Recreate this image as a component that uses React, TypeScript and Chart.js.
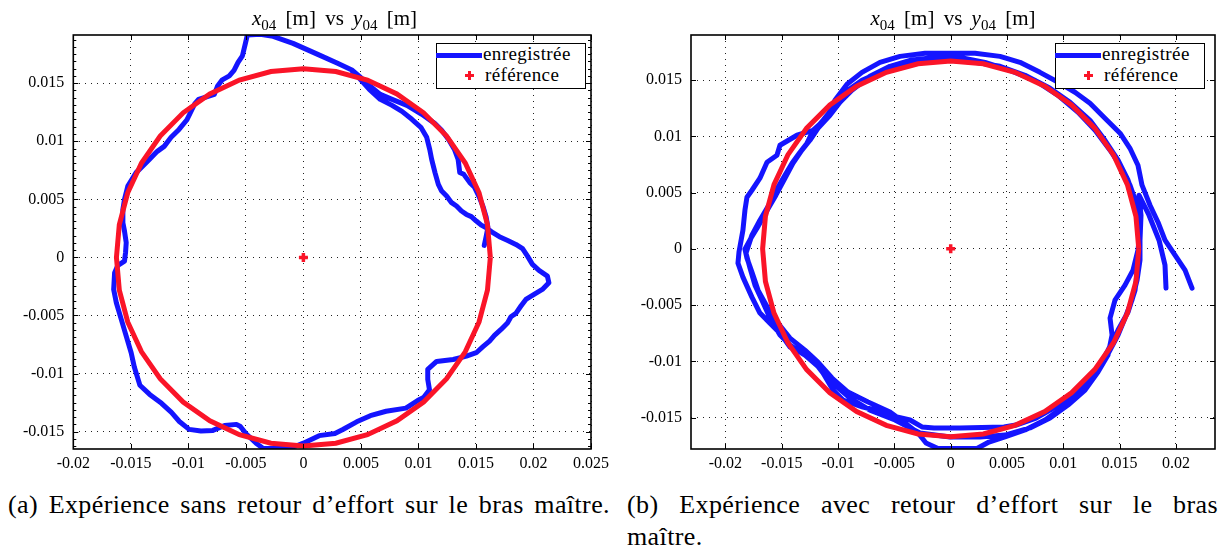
import React, { useEffect, useRef } from "react";
import { Chart, registerables } from "chart.js";
Chart.register(...registerables);

// ---------------- data (metres) ----------------
// (a) sans retour d'effort : trajectoire enregistrée
const recordedAX = [
  0.01572, 0.01589, 0.01604, 0.01589, 0.01561, 0.01526, 0.01488, 0.01445, 0.01394, 0.01359,
  0.01345, 0.01313, 0.01262, 0.01202, 0.01141, 0.01029, 0.009, 0.00771, 0.00668, 0.00573,
  0.00487, 0.00426, 0.00297, 0.00125, -0.0009, -0.00263, -0.00375, -0.00487, -0.00504, -0.0053,
  -0.00568, -0.00603, -0.00644, -0.00705, -0.00747, -0.00774, -0.00842, -0.00911, -0.00945, -0.00979,
  -0.01014, -0.01081, -0.0115, -0.0121, -0.0127, -0.01339, -0.01454, -0.01526, -0.01555, -0.01569,
  -0.01569, -0.01555, -0.0154, -0.01546, -0.01555, -0.01612, -0.01641, -0.01649, -0.01626, -0.01583,
  -0.0154, -0.01497, -0.01469, -0.01421, -0.01336, -0.01233, -0.01147, -0.01078, -0.00993, -0.00891,
  -0.00787, -0.00685, -0.00582, -0.00548, -0.00496, -0.00411, -0.00349, -0.00134, -0.00069, 0.0,
  0.00137, 0.00274, 0.00343, 0.00463, 0.00582, 0.00719, 0.00891, 0.00993, 0.01045, 0.01096,
  0.01081, 0.01081, 0.01158, 0.01302, 0.01417, 0.01503, 0.01561, 0.01618, 0.01661, 0.01718,
  0.01776, 0.01804, 0.01847, 0.01891, 0.01934, 0.02005, 0.02077, 0.02134, 0.02121, 0.02048,
  0.01991, 0.01948, 0.01905, 0.01847, 0.01776, 0.01704, 0.01647, 0.01589, 0.01546, 0.01503,
  0.0146, 0.01417, 0.01374, 0.01331, 0.01288, 0.01245, 0.01202, 0.01173, 0.01144, 0.01115,
  0.01098, 0.01072, 0.01021, 0.00943, 0.00857, 0.00771, 0.00668, 0.00573, 0.00487, 0.00426,
];
const recordedAY = [
  0.00103, 0.00181, 0.00258, 0.00345, 0.00439, 0.00525, 0.00603, 0.00646, 0.00715, 0.00732,
  0.00844, 0.0093, 0.01016, 0.01094, 0.01154, 0.01232, 0.01309, 0.01361, 0.01404, 0.01481,
  0.01559, 0.01611, 0.01671, 0.01748, 0.01843, 0.01903, 0.01921, 0.01916, 0.01843, 0.01736,
  0.0168, 0.01611, 0.01563, 0.01529, 0.01473, 0.01404, 0.01382, 0.01361, 0.01321, 0.01252,
  0.01183, 0.01102, 0.01034, 0.00956, 0.00913, 0.00844, 0.0073, 0.00614, 0.005, 0.00413,
  0.00299, 0.00227, 0.00127, 0.0004, -0.00032, -0.00069, -0.00132, -0.00276, -0.0039, -0.00534,
  -0.00678, -0.00821, -0.00947, -0.01101, -0.0118, -0.01257, -0.01335, -0.01413, -0.01481, -0.01495,
  -0.0149, -0.01447, -0.01438, -0.01456, -0.01521, -0.016, -0.01645, -0.01645, -0.01626, -0.016,
  -0.01535, -0.01516, -0.01482, -0.01416, -0.01363, -0.01325, -0.01298, -0.01233, -0.01206, -0.0114,
  -0.01051, -0.00965, -0.00896, -0.00879, -0.0085, -0.00821, -0.00769, -0.00721, -0.00672, -0.0062,
  -0.00562, -0.00511, -0.00482, -0.00419, -0.00362, -0.00319, -0.00276, -0.00218, -0.00161, -0.00112,
  -0.0006, 0.00011, 0.00075, 0.00112, 0.00146, 0.00178, 0.00213, 0.00256, 0.00278, 0.00313,
  0.00351, 0.0037, 0.00399, 0.00442, 0.00471, 0.00528, 0.00571, 0.00629, 0.0073, 0.00844,
  0.0093, 0.01034, 0.0112, 0.01189, 0.01257, 0.01309, 0.01361, 0.01447, 0.01542, 0.01602,
];
// (a) référence : cercle, un point tous les 10°
const referenceAX = [
  0.01625, 0.016, 0.01527, 0.01407, 0.01245, 0.01045, 0.00813, 0.00556, 0.00282, 0,
  -0.00282, -0.00556, -0.00813, -0.01045, -0.01245, -0.01407, -0.01527, -0.016, -0.01625,
  -0.016, -0.01527, -0.01407, -0.01245, -0.01045, -0.00813, -0.00556, -0.00282, 0,
  0.00282, 0.00556, 0.00813, 0.01045, 0.01245, 0.01407, 0.01527, 0.016, 0.01625,
];
const referenceAY = [
  0, 0.00282, 0.00556, 0.00813, 0.01045, 0.01245, 0.01407, 0.01527, 0.016, 0.01625,
  0.016, 0.01527, 0.01407, 0.01245, 0.01045, 0.00813, 0.00556, 0.00282, 0,
  -0.00282, -0.00556, -0.00813, -0.01045, -0.01245, -0.01407, -0.01527, -0.016, -0.01625,
  -0.016, -0.01527, -0.01407, -0.01245, -0.01045, -0.00813, -0.00556, -0.00282, 0,
];

// (b) avec retour d'effort : trois tours enregistrés
const lap1BX = [
  0.02143, 0.02081, 0.01992, 0.01903, 0.01841, 0.0177, 0.01699, 0.01663, 0.01592, 0.01504,
  0.0137, 0.01237, 0.01104, 0.00971, 0.00793, 0.00615, 0.00438, 0.00216, -0.00006, -0.00228,
  -0.0045, -0.00628, -0.00788, -0.00921, -0.01028, -0.01107, -0.01223, -0.01365, -0.01516, -0.01543,
  -0.01631, -0.01694, -0.01765, -0.01809, -0.01827, -0.01845, -0.0188, -0.01889, -0.01845, -0.01765,
  -0.01694, -0.01605, -0.01516, -0.01427, -0.01338, -0.01223, -0.01134, -0.01045, -0.00956, -0.00779,
  -0.00601, -0.00477, -0.00361, -0.00255, -0.00148, 0.00083, 0.00473, 0.0058, 0.00758, 0.00882,
  0.01015, 0.01148, 0.01255, 0.01344, 0.01415, 0.01486, 0.01548, 0.0161, 0.01655, 0.01681,
  0.01681,
];
const lap1BY = [
  -0.00349, -0.00189, -0.00056, 0.00077, 0.00237, 0.00388, 0.00566, 0.00743, 0.00894, 0.01028,
  0.01161, 0.01294, 0.01392, 0.01472, 0.01569, 0.01658, 0.01711, 0.01738, 0.01738, 0.01738,
  0.01711, 0.01658, 0.01569, 0.01463, 0.01321, 0.01161, 0.01054, 0.0101, 0.00921, 0.00832,
  0.0077, 0.00628, 0.00521, 0.00459, 0.00344, 0.00166, -0.00029, -0.00127, -0.00251, -0.00429,
  -0.00571, -0.0066, -0.00749, -0.00873, -0.00917, -0.00988, -0.01104, -0.01255, -0.01344, -0.01406,
  -0.0145, -0.01495, -0.01521, -0.01583, -0.01592, -0.01592, -0.01583, -0.01566, -0.01504, -0.01433,
  -0.01344, -0.01255, -0.01148, -0.01033, -0.009, -0.00766, -0.00615, -0.00456, -0.00278, -0.001,
  0.00077,
];
const lap2BX = [
  0.01637, 0.01575, 0.01486, 0.0137, 0.01237, 0.0106, 0.00882, 0.0066, 0.00438, 0.00216,
  -0.00006, -0.00228, -0.0045, -0.00628, -0.00788, -0.00939, -0.01028, -0.01134, -0.01232, -0.01276,
  -0.01338, -0.01409, -0.01472, -0.01534, -0.01605, -0.01694, -0.01765, -0.01818, -0.01782, -0.01738,
  -0.01676, -0.01605, -0.01516, -0.01427, -0.01294, -0.01161, -0.01028, -0.00894, -0.00717, -0.00495,
  -0.00273, -0.00006, 0.0026, 0.00482, 0.00704, 0.00882, 0.01042, 0.01193, 0.01308, 0.01397,
  0.01433, 0.01415, 0.01459, 0.01548, 0.01619, 0.01663, 0.01681,
];
const lap2BY = [
  0.00433, 0.0061, 0.00788, 0.00965, 0.01143, 0.01303, 0.01427, 0.01543, 0.01623, 0.01658,
  0.01676, 0.01658, 0.01631, 0.01569, 0.01498, 0.01392, 0.01276, 0.01143, 0.01028, 0.00939,
  0.00859, 0.00761, 0.00655, 0.00548, 0.00406, 0.00255, 0.00122, -0.00038, -0.00171, -0.00322,
  -0.00456, -0.00615, -0.00766, -0.00855, -0.00944, -0.0106, -0.0121, -0.01326, -0.01433, -0.01521,
  -0.01637, -0.01672, -0.01672, -0.01655, -0.01592, -0.01504, -0.01388, -0.01255, -0.01095, -0.00944,
  -0.00766, -0.00615, -0.00456, -0.00322, -0.00189, -0.00012, 0.00166,
];
const lap3BX = [
  0.01655, 0.01592, 0.01504, 0.01415, 0.01282, 0.01131, 0.00953, 0.00749, 0.00527, 0.00305,
  0.00083, -0.00139, -0.00361, -0.00539, -0.00717, -0.00877, -0.00983, -0.01072, -0.01179, -0.0125,
  -0.01321, -0.01401, -0.01472, -0.01552, -0.0164, -0.0172, -0.01774, -0.01827, -0.01809, -0.01765,
  -0.01711, -0.01623, -0.01534, -0.01427, -0.01294, -0.01179, -0.01054, -0.00912, -0.00734, -0.00539,
  -0.00406, -0.0029, -0.00219, -0.00113, 0.00234, 0.0034, 0.00482, 0.0066, 0.00837, 0.00988,
  0.01131, 0.01237, 0.01326, 0.01397, 0.01486, 0.01575, 0.01637, 0.01663, 0.01681, 0.0169,
  0.01672, 0.01761, 0.0185, 0.01903, 0.01912,
];
const lap3BY = [
  0.00388, 0.00566, 0.00743, 0.00877, 0.01054, 0.01214, 0.01365, 0.01498, 0.01587, 0.01658,
  0.01702, 0.01702, 0.01676, 0.01623, 0.01534, 0.01409, 0.01303, 0.01187, 0.01072, 0.00965,
  0.00877, 0.00761, 0.00628, 0.00477, 0.00326, 0.00184, 0.00095, -0.00003, -0.00083, -0.00207,
  -0.00367, -0.00527, -0.0066, -0.00793, -0.009, -0.01006, -0.01148, -0.01273, -0.01361, -0.0145,
  -0.01548, -0.01637, -0.01726, -0.01775, -0.01775, -0.01717, -0.01672, -0.0161, -0.01521, -0.01415,
  -0.01299, -0.01166, -0.01033, -0.009, -0.00722, -0.00562, -0.00367, -0.00145, 0.00077, 0.00299,
  0.00477, 0.00299, 0.00077, -0.00145, -0.00349,
];
// (b) référence : cercle, un point tous les 10°
const referenceBX = [
  0.0167, 0.01645, 0.01569, 0.01446, 0.01279, 0.01073, 0.00835, 0.00571, 0.0029, 0,
  -0.0029, -0.00571, -0.00835, -0.01073, -0.01279, -0.01446, -0.01569, -0.01645, -0.0167,
  -0.01645, -0.01569, -0.01446, -0.01279, -0.01073, -0.00835, -0.00571, -0.0029, 0,
  0.0029, 0.00571, 0.00835, 0.01073, 0.01279, 0.01446, 0.01569, 0.01645, 0.0167,
];
const referenceBY = [
  0, 0.0029, 0.00571, 0.00835, 0.01073, 0.01279, 0.01446, 0.01569, 0.01645, 0.0167,
  0.01645, 0.01569, 0.01446, 0.01279, 0.01073, 0.00835, 0.00571, 0.0029, 0,
  -0.0029, -0.00571, -0.00835, -0.01073, -0.01279, -0.01446, -0.01569, -0.01645, -0.0167,
  -0.01645, -0.01569, -0.01446, -0.01279, -0.01073, -0.00835, -0.00571, -0.0029, 0,
];
// centre de la référence
const centerX = [0];
const centerY = [0];

// ticks
const xTicksA = [-0.02, -0.015, -0.01, -0.005, 0, 0.005, 0.01, 0.015, 0.02, 0.025];
const xTickLabelsA = ["-0.02", "-0.015", "-0.01", "-0.005", "0", "0.005", "0.01", "0.015", "0.02", "0.025"];
const xTicksB = [-0.02, -0.015, -0.01, -0.005, 0, 0.005, 0.01, 0.015, 0.02];
const xTickLabelsB = ["-0.02", "-0.015", "-0.01", "-0.005", "0", "0.005", "0.01", "0.015", "0.02"];
const yTicks = [-0.015, -0.01, -0.005, 0, 0.005, 0.01, 0.015];
const yTickLabels = ["-0.015", "-0.01", "-0.005", "0", "0.005", "0.01", "0.015"];

// axis limits
const xLimA = [-0.02, 0.025];
const yLimA = [-0.0165, 0.01915];
const xLimB = [-0.02306, 0.02347];
const yLimB = [-0.01779, 0.01901];

const seriesLabels = ["enregistrée", "référence"];

// ---------------- styling ----------------
const BLUE = "#1414ff";
const RED = "#fa1428";
const FONT = "'Liberation Serif'";

const pts = (xs: number[], ys: number[]) => xs.map((x, i) => ({ x, y: ys[i] }));

const matlabBox = {
  id: "matlabBox",
  afterDatasetsDraw(chart: any, _args: any, opts: any) {
    const { ctx, chartArea: a, scales } = chart;
    const xs = scales.x;
    const ys = scales.y;
    ctx.save();
    ctx.setLineDash([]);
    ctx.strokeStyle = "#000";
    ctx.lineWidth = 1;
    ctx.beginPath();
    const L = 5;
    for (const t of xs.ticks) {
      const p = Math.round(xs.getPixelForValue(t.value)) + 0.5;
      ctx.moveTo(p, a.bottom);
      ctx.lineTo(p, a.bottom - L);
      ctx.moveTo(p, a.top);
      ctx.lineTo(p, a.top + L);
    }
    for (const t of ys.ticks) {
      const p = Math.round(ys.getPixelForValue(t.value)) + 0.5;
      ctx.moveTo(a.left, p);
      ctx.lineTo(a.left + L, p);
      ctx.moveTo(a.right, p);
      ctx.lineTo(a.right - L, p);
    }
    if (opts && opts.minorY) {
      const step = opts.minorY;
      for (let k = Math.ceil(ys.min / step); k * step <= ys.max; k++) {
        const p = Math.round(ys.getPixelForValue(k * step)) + 0.5;
        ctx.moveTo(a.left, p);
        ctx.lineTo(a.left + 3, p);
        ctx.moveTo(a.right, p);
        ctx.lineTo(a.right - 3, p);
      }
    }
    ctx.stroke();
    ctx.lineWidth = 1.6;
    ctx.strokeRect(a.left, a.top, a.right - a.left, a.bottom - a.top);
    ctx.restore();
  },
};

const CW = 614;
const CH = 480;

function makeConfig(p: {
  rec: { x: number; y: number }[];
  ref: { x: number; y: number }[];
  xLim: number[];
  yLim: number[];
  xTicks: number[];
  xLabels: string[];
  areaLeft: number;
  areaRight: number;
  minorY?: number;
}): any {
  const tickFont = { family: FONT, size: 16 };
  return {
    type: "scatter",
    data: {
      datasets: [
        {
          label: seriesLabels[1],
          data: p.ref,
          showLine: true,
          borderColor: RED,
          borderWidth: 5,
          pointRadius: 0,
          fill: false,
          order: 0,
          clip: 0,
        },
        {
          label: "centre",
          data: pts(centerX, centerY),
          showLine: false,
          pointStyle: "cross",
          pointRadius: 4.5,
          borderWidth: 3.5,
          pointBorderWidth: 3.5,
          borderColor: RED,
          backgroundColor: RED,
          order: 0,
        },
        {
          label: seriesLabels[0],
          data: p.rec,
          showLine: true,
          borderColor: BLUE,
          borderWidth: 5,
          borderJoinStyle: "round",
          borderCapStyle: "round",
          pointRadius: 0,
          fill: false,
          order: 1,
          clip: 0,
        },
      ],
    },
    options: {
      animation: false,
      responsive: false,
      maintainAspectRatio: false,
      devicePixelRatio: 1,
      events: [],
      layout: { padding: { top: 35, right: CW - p.areaRight, bottom: 0, left: 0 } },
      plugins: {
        legend: { display: false },
        title: { display: false },
        tooltip: { enabled: false },
        matlabBox: { minorY: p.minorY },
      },
      scales: {
        x: {
          type: "linear",
          position: "bottom",
          bounds: "data",
          min: p.xLim[0],
          max: p.xLim[1],
          afterBuildTicks: (ax: any) => {
            ax.ticks = p.xTicks.map((v) => ({ value: v }));
          },
          afterFit: (ax: any) => {
            ax.height = CH - 449;
          },
          ticks: {
            callback: (_v: any, i: number) => p.xLabels[i],
            font: tickFont,
            color: "#000",
            padding: 5,
            autoSkip: false,
            maxRotation: 0,
            minRotation: 0,
          },
          grid: { color: "#222", lineWidth: 1, drawTicks: false },
          border: { display: false, dash: [1, 5] },
        },
        y: {
          type: "linear",
          position: "left",
          bounds: "data",
          min: p.yLim[0],
          max: p.yLim[1],
          afterBuildTicks: (ax: any) => {
            ax.ticks = yTicks.map((v) => ({ value: v }));
          },
          afterFit: (ax: any) => {
            ax.width = p.areaLeft;
          },
          ticks: {
            callback: (_v: any, i: number) => yTickLabels[i],
            font: tickFont,
            color: "#000",
            padding: 9,
            autoSkip: false,
          },
          grid: { color: "#222", lineWidth: 1, drawTicks: false },
          border: { display: false, dash: [1, 5] },
        },
      },
    },
    plugins: [matlabBox],
  };
}

function PlotCanvas({ left, build }: { left: number; build: () => any }) {
  const ref = useRef<HTMLCanvasElement | null>(null);
  useEffect(() => {
    if (!ref.current) return;
    const chart = new Chart(ref.current, build());
    return () => chart.destroy();
  }, []);
  return (
    <canvas
      ref={ref}
      width={CW}
      height={CH}
      style={{ position: "absolute", left, top: 0, width: CW, height: CH }}
    />
  );
}

function Title({ left, width }: { left: number; width: number }) {
  const sub: React.CSSProperties = { fontSize: 15, verticalAlign: "-5px", fontStyle: "normal" };
  return (
    <div
      style={{
        position: "absolute",
        left,
        top: 4,
        width,
        textAlign: "center",
        fontFamily: FONT,
        fontSize: 21,
        lineHeight: "28px",
        whiteSpace: "nowrap",
        wordSpacing: 4,
        color: "#000",
      }}
    >
      <i>x</i>
      <span style={sub}>04</span> [m] vs <i>y</i>
      <span style={sub}>04</span> [m]
    </div>
  );
}

function Legend({ left }: { left: number }) {
  const txt: React.CSSProperties = {
    position: "absolute",
    fontFamily: FONT,
    fontSize: 19,
    letterSpacing: 0.4,
    lineHeight: "20px",
    whiteSpace: "nowrap",
    color: "#000",
  };
  return (
    <div
      style={{
        position: "absolute",
        left,
        top: 43,
        width: 150,
        height: 46,
        boxSizing: "border-box",
        border: "1.6px solid #000",
        background: "#fff",
      }}
    >
      <div style={{ position: "absolute", left: -1, top: 9, width: 46, height: 4.5, background: BLUE }} />
      <div style={{ ...txt, left: 46, top: 0 }}>{seriesLabels[0]}</div>
      <div style={{ position: "absolute", left: 28, top: 29.5, width: 9, height: 3.5, background: RED }} />
      <div style={{ position: "absolute", left: 30.75, top: 26.75, width: 3.5, height: 9, background: RED }} />
      <div style={{ ...txt, left: 48, top: 21 }}>{seriesLabels[1]}</div>
    </div>
  );
}

export default function App() {
  const cap: React.CSSProperties = {
    position: "absolute",
    fontFamily: FONT,
    fontSize: 26,
    lineHeight: "31px",
    letterSpacing: 0.4,
    color: "#000",
    whiteSpace: "nowrap",
  };
  return (
    <div
      style={{
        position: "absolute",
        left: 0,
        top: 0,
        width: 1228,
        height: 551,
        overflow: "hidden",
        background: "#fff",
      }}
    >
      <PlotCanvas
        left={0}
        build={() =>
          makeConfig({
            rec: pts(recordedAX, recordedAY),
            ref: pts(referenceAX, referenceAY),
            xLim: xLimA,
            yLim: yLimA,
            xTicks: xTicksA,
            xLabels: xTickLabelsA,
            areaLeft: 73.3,
            areaRight: 595.7,
            minorY: 0.000625,
          })
        }
      />
      <PlotCanvas
        left={614}
        build={() =>
          makeConfig({
            rec: pts([...lap1BX, ...lap2BX, ...lap3BX], [...lap1BY, ...lap2BY, ...lap3BY]),
            ref: pts(referenceBX, referenceBY),
            xLim: xLimB,
            yLim: yLimB,
            xTicks: xTicksB,
            xLabels: xTickLabelsB,
            areaLeft: 77,
            areaRight: 601,
          })
        }
      />
      <Title left={73} width={523} />
      <Title left={691} width={524} />
      <Legend left={436} />
      <Legend left={1055} />
      <div style={{ ...cap, left: 8, top: 489, width: 602, textAlign: "justify", textAlignLast: "justify" }}>
        (a) Expérience sans retour d’effort sur le bras maître.
      </div>
      <div style={{ ...cap, left: 627, top: 489, width: 591, textAlign: "justify", textAlignLast: "justify" }}>
        (b) Expérience avec retour d’effort sur le bras
      </div>
      <div style={{ ...cap, left: 627, top: 521 }}>maître.</div>
    </div>
  );
}
